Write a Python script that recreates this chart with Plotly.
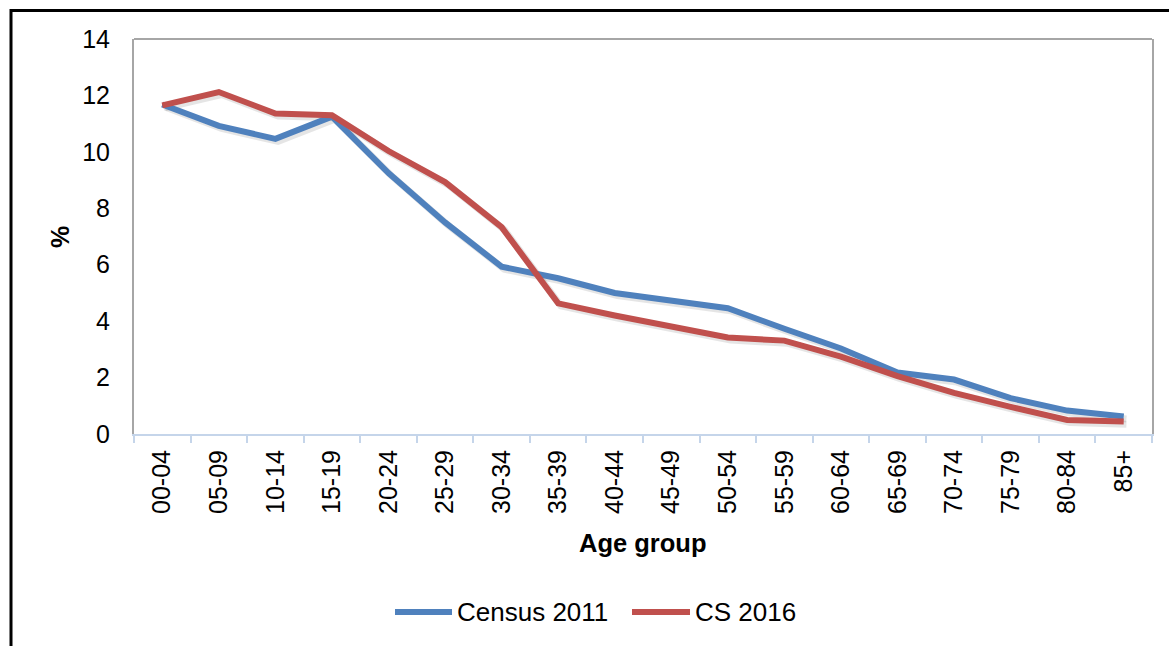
import plotly.graph_objects as go

age_groups = ["00-04", "05-09", "10-14", "15-19", "20-24", "25-29", "30-34", "35-39",
              "40-44", "45-49", "50-54", "55-59", "60-64", "65-69", "70-74", "75-79",
              "80-84", "85+"]
census_2011 = [11.68, 10.92, 10.46, 11.25, 9.25, 7.5, 5.93, 5.52, 5.0, 4.74, 4.46,
               3.73, 3.03, 2.18, 1.93, 1.27, 0.83, 0.62]
cs_2016 = [11.65, 12.12, 11.36, 11.3, 10.03, 8.93, 7.33, 4.63, 4.2, 3.83, 3.42,
           3.31, 2.74, 2.05, 1.46, 0.96, 0.5, 0.44]
series_names = ["Census 2011", "CS 2016"]
series_colors = ["#4F81BD", "#C0504D"]
y_ticks = [0, 2, 4, 6, 8, 10, 12, 14]
title_text = "Figure 2.1: Percentage distribution of population by age group, Census 2011 and CS 2016"

FONT = "Liberation Sans, Arial, sans-serif"
W, H = 1169, 646
L, T = 134, 39
PW, PH = 1018, 395
R, B = W - L - PW, H - T - PH


def px(x):  # picture pixel -> paper x
    return (x - L) / PW


def py(y):  # picture pixel -> paper y
    return (T + PH - y) / PH


fig = go.Figure()
# soft drop shadows (base axes, shifted ranges)
for vals in [census_2011, cs_2016]:
    fig.add_trace(go.Scatter(x=age_groups, y=vals, mode="lines", showlegend=False,
                             hoverinfo="skip", xaxis="x", yaxis="y",
                             line=dict(color="rgba(0,0,0,0.10)", width=7)))
for name, vals, col in zip(series_names, [census_2011, cs_2016], series_colors):
    fig.add_trace(go.Scatter(x=age_groups, y=vals, mode="lines", name=name, showlegend=False,
                             xaxis="x2", yaxis="y2", line=dict(color=col, width=6)))

shapes = [
    dict(type="rect", xref="paper", yref="paper", x0=px(11), x1=px(1200), y0=py(700), y1=py(10.5),
         line=dict(color="black", width=3), layer="below"),
    dict(type="line", xref="paper", yref="paper", x0=0, x1=1, y0=1, y1=1,
         line=dict(color="#A6A6A6", width=2)),
]
annotations = [
    dict(text="<b>" + title_text + "</b>", xref="paper", yref="paper", x=px(9), y=py(0.5),
         xanchor="left", yanchor="bottom", showarrow=False,
         font=dict(family=FONT, size=26.5, color="black")),
    dict(text="<b>Age group</b>", xref="paper", yref="paper", x=px(643), y=py(543),
         xanchor="center", yanchor="middle", showarrow=False,
         font=dict(family=FONT, size=25.5, color="black")),
    dict(text="<b>%</b>", xref="paper", yref="paper", x=px(60), y=py(237), textangle=-90,
         xanchor="center", yanchor="middle", showarrow=False,
         font=dict(family=FONT, size=25, color="black")),
]
leg_items = [(395, 452, 455), (632, 690, 693)]
for (x0, x1, xt), name, col in zip(leg_items, series_names, series_colors):
    shapes.append(dict(type="line", xref="paper", yref="paper", x0=px(x0), x1=px(x1),
                       y0=py(612), y1=py(612), line=dict(color=col, width=6)))
    annotations.append(dict(text=name, xref="paper", yref="paper", x=px(xt), y=py(612),
                            xanchor="left", yanchor="middle", showarrow=False,
                            font=dict(family=FONT, size=26, color="black")))

fig.update_layout(
    width=W, height=H,
    margin=dict(l=L, r=R, t=T, b=B),
    paper_bgcolor="white", plot_bgcolor="white",
    shapes=shapes, annotations=annotations,
    showlegend=False,
    font=dict(family=FONT, size=25, color="black"),
    xaxis=dict(type="category", visible=False, range=[-0.548, 17.452], fixedrange=True),
    yaxis=dict(visible=False, range=[0.09, 14.09], fixedrange=True),
    xaxis2=dict(type="category", overlaying="x", side="bottom", tickangle=-90,
                tickson="boundaries", ticks="outside", ticklen=7, tickwidth=1.5,
                tickcolor="#C5D5EA", showline=True, linecolor="#C5D5EA", linewidth=2,
                showgrid=False, zeroline=False,
                tickfont=dict(family=FONT, size=25, color="black"), ticklabelstandoff=4,
                range=[-0.5, 17.5]),
    yaxis2=dict(overlaying="y", side="left", range=[0, 14], tickvals=y_ticks, ticks="",
                showline=True, mirror=True, linecolor="#A6A6A6", linewidth=2,
                showgrid=False, zeroline=False,
                tickfont=dict(family=FONT, size=25, color="black"), ticklabelstandoff=17),
)

fig.write_html("out.html", config={"displayModeBar": False},
               post_script="document.body.style.margin='0';document.body.style.overflow='hidden';")
